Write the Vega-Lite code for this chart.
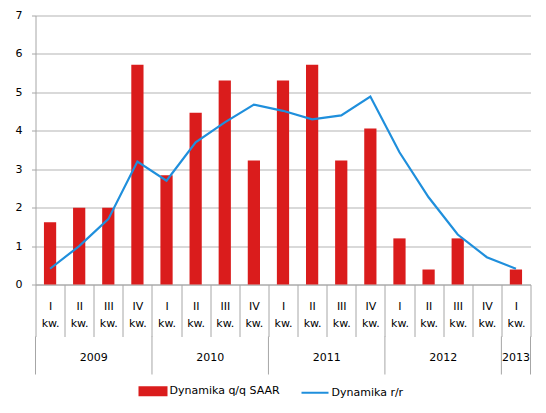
{
  "$schema": "https://vega.github.io/schema/vega-lite/v6.json",
  "padding": {"left": 14.5, "top": 9.5, "right": 5, "bottom": 5},
  "background": "white",
  "bounds": "flush",
  "spacing": 52,
  "config": {
    "view": {"stroke": null},
    "font": "DejaVu Sans",
    "axis": {"labelFont": "DejaVu Sans", "labelFontSize": 11, "labelColor": "#000000"}
  },
  "datasets": {
    "kw": [
      {"q": "2009 I", "qq": 1.62, "rr": 0.41},
      {"q": "2009 II", "qq": 2.0, "rr": 1.0},
      {"q": "2009 III", "qq": 2.0, "rr": 1.7},
      {"q": "2009 IV", "qq": 5.72, "rr": 3.2},
      {"q": "2010 I", "qq": 2.84, "rr": 2.7},
      {"q": "2010 II", "qq": 4.47, "rr": 3.7},
      {"q": "2010 III", "qq": 5.31, "rr": 4.22},
      {"q": "2010 IV", "qq": 3.23, "rr": 4.68},
      {"q": "2011 I", "qq": 5.31, "rr": 4.52},
      {"q": "2011 II", "qq": 5.72, "rr": 4.3},
      {"q": "2011 III", "qq": 3.23, "rr": 4.4},
      {"q": "2011 IV", "qq": 4.06, "rr": 4.89},
      {"q": "2012 I", "qq": 1.2, "rr": 3.44},
      {"q": "2012 II", "qq": 0.39, "rr": 2.27},
      {"q": "2012 III", "qq": 1.2, "rr": 1.3},
      {"q": "2012 IV", "qq": null, "rr": 0.71},
      {"q": "2013 I", "qq": 0.39, "rr": 0.41}
    ],
    "granice": [{"k": 0}, {"k": 4}, {"k": 8}, {"k": 12}, {"k": 16}, {"k": 17}],
    "lata": [
      {"rok": "2009", "k": 2},
      {"rok": "2010", "k": 6},
      {"rok": "2011", "k": 10},
      {"rok": "2012", "k": 14},
      {"rok": "2013", "k": 16.5}
    ]
  },
  "vconcat": [
    {
      "width": 495,
      "height": 269,
      "data": {"name": "kw"},
      "encoding": {
        "x": {
          "field": "q",
          "type": "ordinal",
          "sort": ["2009 I", "2009 II", "2009 III", "2009 IV", "2010 I", "2010 II", "2010 III", "2010 IV", "2011 I", "2011 II", "2011 III", "2011 IV", "2012 I", "2012 II", "2012 III", "2012 IV", "2013 I"],
          "scale": {
            "domain": ["2009 I", "2009 II", "2009 III", "2009 IV", "2010 I", "2010 II", "2010 III", "2010 IV", "2011 I", "2011 II", "2011 III", "2011 IV", "2012 I", "2012 II", "2012 III", "2012 IV", "2013 I"],
            "paddingInner": 0,
            "paddingOuter": 0
          },
          "axis": {
            "title": null,
            "tickBand": "extent",
            "tickSize": 52,
            "tickColor": "#a6a6a6",
            "domainColor": "#a6a6a6",
            "labelAngle": 0,
            "labelFlush": false,
            "labelOverlap": false,
            "labelPadding": -36,
            "labelLineHeight": 17,
            "labelExpr": "datum.index >= 0 && !datum.extra ? [split(datum.value, ' ')[1], 'kw.'] : ''"
          }
        },
        "y": {
          "type": "quantitative",
          "scale": {"domain": [0, 7], "nice": false},
          "axis": {
            "title": null,
            "values": [0, 1, 2, 3, 4, 5, 6, 7],
            "labelOverlap": false,
            "grid": true,
            "gridColor": "#b3b3b3",
            "domainColor": "#a6a6a6",
            "tickColor": "#a6a6a6",
            "tickSize": 4,
            "labelPadding": 9.5
          }
        }
      },
      "layer": [
        {
          "mark": {"type": "bar", "width": {"band": 0.42}},
          "encoding": {
            "y": {"field": "qq"},
            "color": {
              "datum": "Dynamika q/q SAAR",
              "type": "nominal",
              "scale": {
                "domain": ["Dynamika q/q SAAR", "Dynamika r/r"],
                "range": ["#da1c1c", "#1f8fdc"]
              },
              "legend": {
                "title": null,
                "orient": "none",
                "legendX": 103,
                "legendY": 361,
                "direction": "horizontal",
                "symbolSize": 729,
                "labelOffset": 2,
                "columnPadding": 17,
                "labelFont": "DejaVu Sans",
                "labelFontSize": 11,
                "labelColor": "#000000",
                "encode": {
                  "symbols": {
                    "update": {
                      "shape": {"signal": "datum.value === 'Dynamika r/r' ? 'stroke' : 'M-1,-0.3H1V0.3H-1Z'"},
                      "fill": {"signal": "datum.value === 'Dynamika r/r' ? 'transparent' : '#da1c1c'"},
                      "stroke": {"signal": "datum.value === 'Dynamika r/r' ? '#1f8fdc' : 'transparent'"},
                      "strokeWidth": {"value": 2},
                      "opacity": {"value": 1}
                    }
                  }
                }
              }
            }
          }
        },
        {
          "mark": {"type": "line", "strokeWidth": 2.2},
          "encoding": {
            "y": {"field": "rr"},
            "color": {"datum": "Dynamika r/r", "type": "nominal"}
          }
        }
      ]
    },
    {
      "width": 495,
      "height": 38,
      "layer": [
        {
          "data": {"name": "granice"},
          "mark": {"type": "rule", "color": "#a6a6a6"},
          "encoding": {
            "x": {"field": "k", "type": "quantitative", "scale": {"domain": [0, 17], "nice": false, "zero": false}, "axis": null}
          }
        },
        {
          "data": {"name": "lata"},
          "mark": {"type": "text", "fontSize": 11, "color": "#000000", "font": "DejaVu Sans", "dy": 2},
          "encoding": {
            "x": {"field": "k", "type": "quantitative", "axis": null},
            "text": {"field": "rok"}
          }
        }
      ]
    }
  ]
}
